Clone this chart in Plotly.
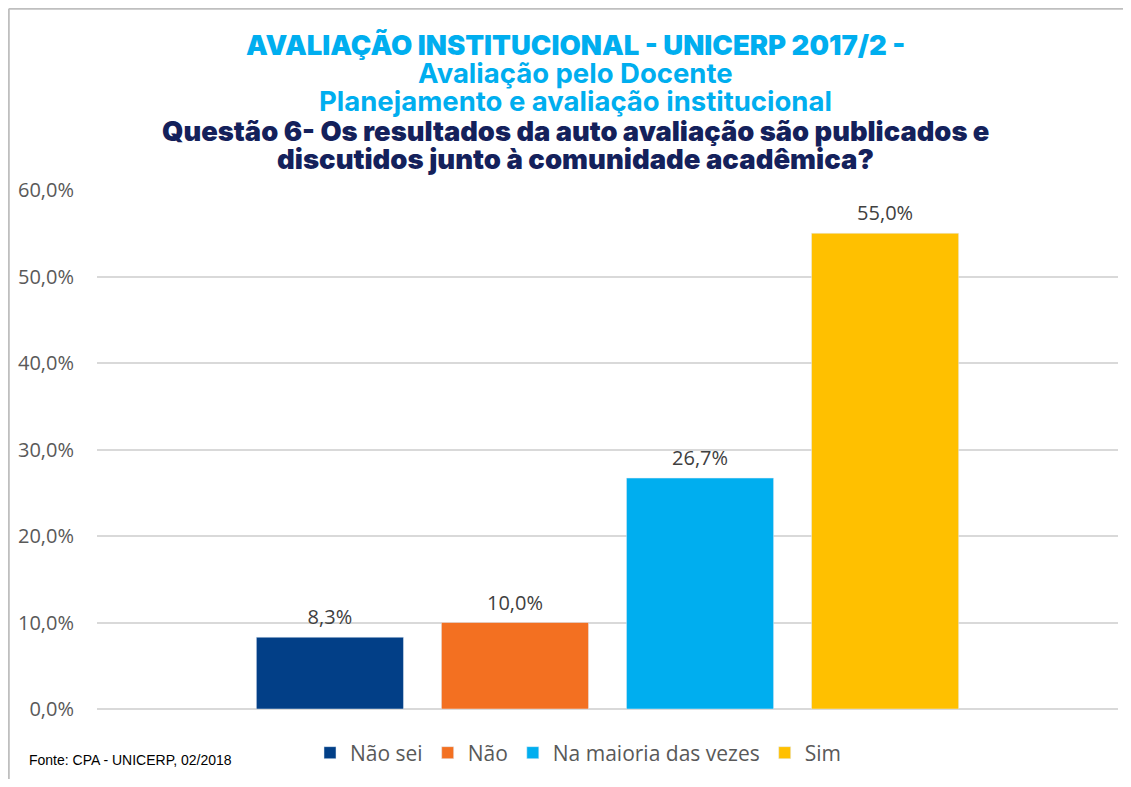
import plotly.graph_objects as go

# dados
categorias = ["Não sei", "Não", "Na maioria das vezes", "Sim"]
valores = [0.083, 0.100, 0.267, 0.550]
cores = ["#023F87", "#F37021", "#00AEEF", "#FFC000"]

titulo_linhas = [
    "AVALIAÇÃO INSTITUCIONAL - UNICERP 2017/2 -",
    "Avaliação pelo Docente",
    "Planejamento e avaliação institucional",
    "Questão 6- Os resultados da auto avaliação são publicados e",
    "discutidos junto à comunidade acadêmica?",
]
fonte_txt = "Fonte: CPA - UNICERP, 02/2018"

# a página tem margem de 8px no body
O = 8
PW, PH = 1131, 787
W, H = PW - 2 * O, PH - 2 * O
L, T = 97 - O, 190 - O
R = W - (1118 - O)
B = H - (709 - O)
pw, ph = W - L - R, H - T - B


# converte pixel da página em coordenada "paper"
def px(x):
    return (x - O - L) / pw


def py(y):
    return (H - B - (y - O)) / ph


fig = go.Figure()
for cat, val, cor in zip(categorias, valores, cores):
    fig.add_trace(go.Bar(
        x=["Q6"], y=[val], name=cat, marker_color=cor,
        # linha vazia pequena embaixo só pra afastar o rótulo da barra
        texttemplate="<span style='font-size:20px'>%{y:.1%}</span><br> ",
        textposition="outside",
        textfont=dict(family="Open Sans", size=6, color="#404040"),
        cliponaxis=False,
    ))

# título em várias linhas
estilos = [
    (45, 27.5, "#00AEEF", 900),
    (73, 27.5, "#00AEEF", 700),
    (101, 27.5, "#00AEEF", 700),
    (131, 27.3, "#14215B", 900),
    (159, 27.5, "#14215B", 900),
]
for txt, (ypix, tam, cor, peso) in zip(titulo_linhas, estilos):
    fig.add_annotation(
        text=txt, x=px(575), y=py(ypix), xref="paper", yref="paper",
        xanchor="center", yanchor="middle", showarrow=False,
        font=dict(family="Inter", size=tam, color=cor, weight=peso),
    )

fig.add_annotation(
    text=fonte_txt, x=px(27), y=py(760), xref="paper", yref="paper",
    xanchor="left", yanchor="middle", showarrow=False,
    font=dict(family="Liberation Sans Narrow, Liberation Sans", size=14, color="#000000"),
)

# borda cinza (esquerda e topo)
fig.add_shape(type="line", xref="paper", yref="paper",
              x0=px(8.8), x1=px(8.8), y0=py(8.8), y1=py(787),
              line=dict(color="#BFBFBF", width=2))
fig.add_shape(type="line", xref="paper", yref="paper",
              x0=px(8.8), x1=px(1131), y0=py(8.8), y1=py(8.8),
              line=dict(color="#BFBFBF", width=2))

fig.update_layout(
    width=W, height=H,
    margin=dict(l=L, r=R, t=T, b=B),
    paper_bgcolor="white", plot_bgcolor="white",
    separators=", ",
    barmode="group", bargap=0.275, bargroupgap=0.205,
    showlegend=True,
    legend=dict(
        orientation="h", x=px(578), xanchor="center", y=py(753), yanchor="middle",
        font=dict(family="Open Sans", size=21, color="#595959"),
        itemclick=False, traceorder="normal",
    ),
    font=dict(family="Open Sans"),
)
fig.update_xaxes(showticklabels=False, showgrid=False, zeroline=False, showline=False)
fig.update_yaxes(
    range=[0, 0.6], dtick=0.1, tickformat=".1%",
    showgrid=True, gridcolor="#D9D9D9", gridwidth=1.5,
    zeroline=True, zerolinecolor="#D9D9D9", zerolinewidth=1.5,
    showline=False, ticks="", ticklabelstandoff=22,
    tickfont=dict(family="Open Sans", size=20, color="#595959"),
)

fig.write_html("out.html")
